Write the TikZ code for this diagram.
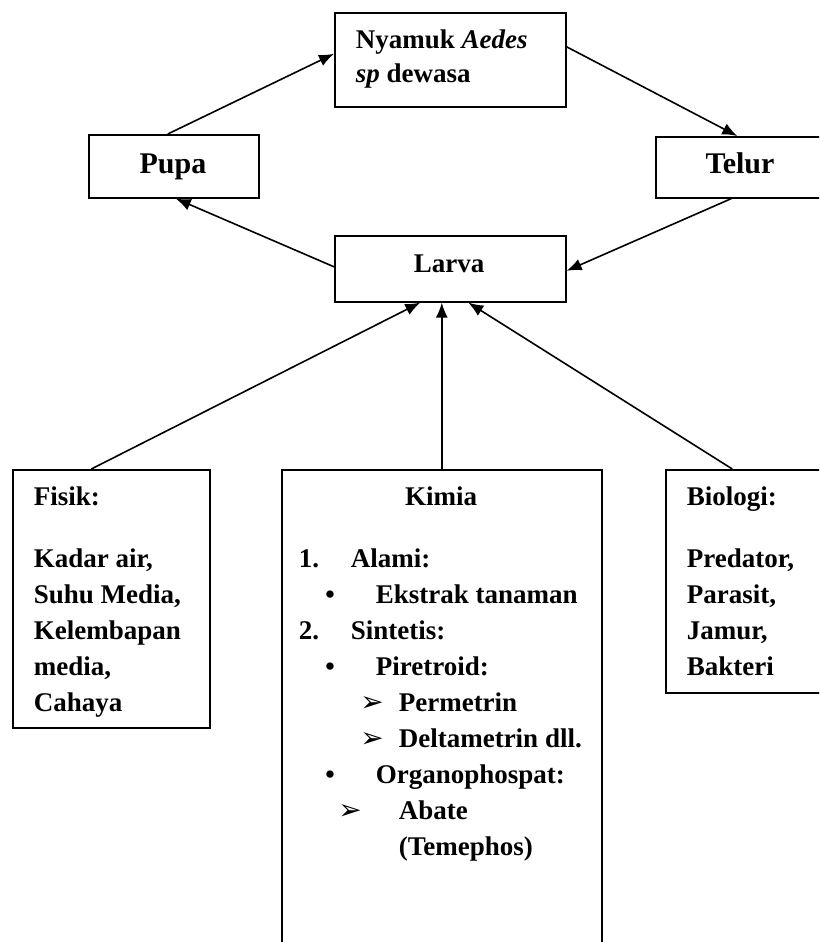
\documentclass[tikz,border=0pt]{standalone}
\usepackage{fontspec}
\setmainfont{Liberation Serif}
\newfontfamily\dingfont{DejaVu Sans}
\usetikzlibrary{arrows.meta,positioning}

\newcommand{\arrowhd}{{\dingfont\fontsize{14}{14}\selectfont\char"27A2}}

\begin{document}
\begin{tikzpicture}[x=0.5pt, y=-0.5pt, line width=0.8pt,
    box/.style = {draw, rectangle, inner sep=0pt, anchor=north west},
    txt/.style = {inner sep=0pt, anchor=base west, font=\bfseries\fontsize{13.5}{17.9}\selectfont},
    big/.style = {inner sep=0pt, anchor=base, font=\bfseries\fontsize{15}{18}\selectfont},
    link/.style = {-{Latex[length=7.5pt, width=6pt]}}]

      \useasboundingbox (0,0) rectangle (819,942);
      \clip (0,0) rectangle (819,942);

      % life cycle
      \node[box, minimum width=115.5pt, minimum height=47pt] (nyamuk) at (334,12) {};
      \node[box, minimum width=85pt, minimum height=31.5pt] (pupa) at (88,134) {};
      \node[box, minimum width=83.5pt, minimum height=30.5pt] (telur) at (655,136) {};
      \node[box, minimum width=115.5pt, minimum height=33pt] (larva) at (334,235) {};

      \node[txt] (nyamuk_1) at (355,48) {Nyamuk \textit{Aedes}};
      \node[txt] (nyamuk_2) at (355,82) {\textit{sp} dewasa};
      \node[big] (pupa_t) at (173,173) {Pupa};
      \node[big] (telur_t) at (740,173) {Telur};
      \node[txt, anchor=base] (larva_t) at (449,272) {Larva};

      % control boxes
      \node[box, minimum width=98.5pt, minimum height=129pt] (fisik) at (12,469) {};
      \node[box, minimum width=160pt, minimum height=250pt] (kimia) at (281,469) {};
      \node[box, minimum width=78.5pt, minimum height=111.5pt] (biologi) at (665,469) {};

      \node[txt] (fisik_0) at (33,505) {Fisik:};
      \foreach \t [count=\i] in {{Kadar air,}, {Suhu Media,}, {Kelembapan}, {media,}, {Cahaya}}
        \node[txt] (fisik_\i) at (33,{531+36*\i}) {\t};

      \node[txt] (biologi_0) at (686,505) {Biologi:};
      \foreach \t [count=\i] in {{Predator,}, {Parasit,}, {Jamur,}, {Bakteri}}
        \node[txt] (biologi_\i) at (686,{531+36*\i}) {\t};

      \node[txt, anchor=base] (kimia_0) at (441,505) {Kimia};
      \foreach \mk/\mx/\tx/\t [count=\i] in {
          1./309/350/Alami:,
          \textbullet/330/375/Ekstrak tanaman,
          2./309/350/Sintetis:,
          \textbullet/330/375/Piretroid:,
          \arrowhd/372/398/Permetrin,
          \arrowhd/372/398/Deltametrin dll.,
          \textbullet/330/375/Organophospat:,
          \arrowhd/350/398/Abate}
      {
        \node[txt, anchor=base] (kimia_m\i) at (\mx,{531+36*\i}) {\mk};
        \node[txt] (kimia_\i) at (\tx,{531+36*\i}) {\t};
      }
      \node[txt] (kimia_9) at (398,855) {(Temephos)};

      \draw[link] ([xshift=-3pt]pupa.north) -- ([yshift=3pt]nyamuk.west);
      \draw[link] ([yshift=6.5pt]nyamuk.east) -- ([xshift=-1pt]telur.north);
      \draw[link] ([xshift=-4pt]telur.south) -- ([yshift=-1pt]larva.east);
      \draw[link] ([yshift=1pt]larva.west) -- ([xshift=1pt]pupa.south);

      \draw[link] ([xshift=-10pt]fisik.north) -- ([xshift=-15pt]larva.south);
      \draw[link] (kimia.north) -- (kimia.north |- larva.south);
      \draw[link] ([xshift=-6pt]biologi.north) -- ([xshift=9pt]larva.south);

\end{tikzpicture}
\end{document}
